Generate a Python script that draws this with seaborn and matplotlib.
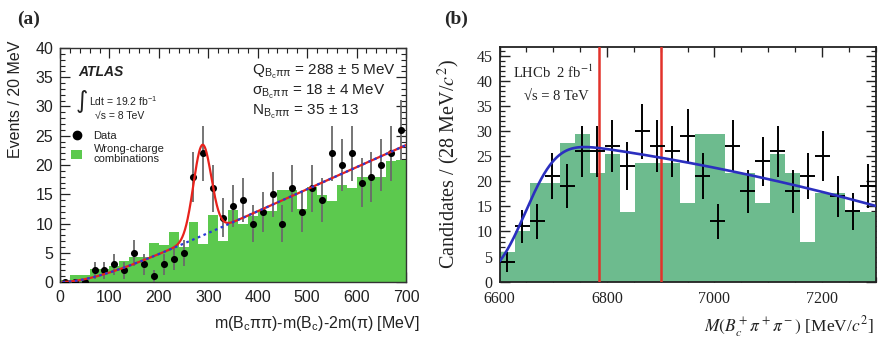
import math
import numpy as np
import pandas as pd
import seaborn as sns
import matplotlib
matplotlib.use("Agg")
import matplotlib.pyplot as plt
from matplotlib.lines import Line2D
from matplotlib.patches import Patch
from matplotlib.ticker import MultipleLocator

# ---------------- data: panel (a) ATLAS ----------------
atlas_edges = list(range(0, 720, 20))
atlas_wrong_charge = [0.3, 1.2, 1.2, 2.2, 2.2, 2.8, 3.6, 4.3, 4.3, 6.6,
                      6.3, 8.6, 6.0, 10.2, 6.5, 11.4, 7.0, 12.3, 10.0, 11.2,
                      12.2, 12.2, 15.7, 15.8, 12.4, 16.2, 14.8, 13.8, 16.5, 16.1,
                      17.9, 17.9, 18.0, 20.6, 20.9]
atlas_data = [0, 0, 0, 2, 2, 3, 2, 5, 3, 1,
              3, 4, 5, 18, 22, 16, 11, 13, 14, 10,
              12, 15, 10, 16, 12, 16, 14, 22, 20, 22,
              17, 18, 20, 22, 26]
# fit: signal Gaussian (from the chart text) + smooth background
atlas_Q, atlas_sigma, atlas_N = 288.0, 18.0, 35.0
atlas_bg_slope, atlas_bg_scale = 0.03774, 80.0

# ---------------- data: panel (b) LHCb ----------------
lhcb_edges = list(range(6600, 7301, 28))
lhcb_wrong_charge = [6.0, 10.0, 19.6, 19.6, 27.6, 29.5, 21.7, 25.4, 13.8, 23.6,
                     23.6, 23.6, 15.7, 29.5, 29.5, 21.7, 21.7, 15.7, 25.5, 21.7,
                     8.0, 17.7, 17.7, 13.9, 13.9]
lhcb_data = [4, 11, 12, 21, 19, 26, 26, 27, 23, 30,
             27, 26, 29, 21, 12, 27, 18, 24, 26, 18,
             21, 25, 17, 14, 19]
lhcb_window = [6785, 6900]
# background fit: quadratic times error-function turn-on
lhcb_c0, lhcb_c1, lhcb_c2, lhcb_ref = 24.7, -0.01863, -1.343e-5, 6900.0
lhcb_mu, lhcb_s = 6650.0, 65.0

# ---------------- style ----------------
sns.set_theme(style="ticks")
plt.rcParams["font.family"] = ["Liberation Sans", "DejaVu Sans"]
plt.rcParams["mathtext.fontset"] = "custom"
plt.rcParams["mathtext.rm"] = "Liberation Sans"
plt.rcParams["mathtext.it"] = "Liberation Sans:italic"
plt.rcParams["mathtext.bf"] = "Liberation Sans:bold"

SANS = ["Liberation Sans", "DejaVu Sans"]
SERIF = ["Liberation Serif", "DejaVu Serif"]

fig = plt.figure(figsize=(8.82, 3.40), dpi=100)
axL = fig.add_axes([60 / 882, 58 / 340, 346 / 882, 234 / 340])
axR = fig.add_axes([499.5 / 882, 58.3 / 340, 376 / 882, 235 / 340])

# ================= panel (a) =================
a_cent = [0.5 * (lo + hi) for lo, hi in zip(atlas_edges[:-1], atlas_edges[1:])]
a_w = atlas_edges[1] - atlas_edges[0]
dfa = pd.DataFrame({"x": a_cent, "wc": atlas_wrong_charge, "n": atlas_data})

sns.histplot(data=dfa, x="x", weights="wc", bins=list(atlas_edges), element="step",
             fill=True, color="#5cc94e", alpha=1, linewidth=0, ax=axL, zorder=1)

a_err = np.sqrt(dfa["n"].to_numpy(dtype=float))
axL.errorbar(dfa["x"], dfa["n"], yerr=a_err, fmt="none", ecolor="#6a6a6a",
             elinewidth=1.3, capsize=0, zorder=3)
sns.scatterplot(data=dfa, x="x", y="n", color="black", s=26, edgecolor="black",
                linewidth=0, ax=axL, zorder=5, legend=False)

xa = np.linspace(5, 700, 800)
bg_a = atlas_bg_slope * (xa - atlas_bg_scale + atlas_bg_scale * np.exp(-xa / atlas_bg_scale))
sig_a = atlas_N * a_w / (atlas_sigma * np.sqrt(2 * np.pi)) * np.exp(-0.5 * ((xa - atlas_Q) / atlas_sigma) ** 2)
sns.lineplot(x=xa, y=bg_a + sig_a, color="#e8221c", linewidth=1.6, ax=axL, zorder=6)
sns.lineplot(x=xa, y=bg_a, color="#2a3ad6", linewidth=1.6, linestyle=(0, (1.2, 1.6)),
             ax=axL, zorder=7)

axL.set_xlim(0, 700)
axL.set_ylim(0, 40)
axL.xaxis.set_major_locator(MultipleLocator(100))
axL.xaxis.set_minor_locator(MultipleLocator(20))
axL.yaxis.set_major_locator(MultipleLocator(5))
axL.yaxis.set_minor_locator(MultipleLocator(1))
axL.tick_params(which="both", direction="in", top=True, right=True, colors="#222222",
                labelsize=11.5, labelcolor="#222222")
axL.tick_params(which="major", length=7, width=0.9, pad=5)
axL.tick_params(which="minor", length=3.5, width=0.8)
axL.tick_params(axis="x", which="major", pad=6)
for sp in axL.spines.values():
    sp.set_linewidth(1.0)
    sp.set_color("#333333")
for lab in axL.get_xticklabels() + axL.get_yticklabels():
    lab.set_family(SANS)
axL.set_xlabel(r"m(B$_{\mathrm{c}}$ππ)-m(B$_{\mathrm{c}}$)-2m(π) [MeV]", fontsize=11.5,
               family=SANS, color="#222222", math_fontfamily="custom", loc="right")
axL.xaxis.set_label_coords(1.04, -0.135)
axL.set_ylabel("Events / 20 MeV", fontsize=11.5, family=SANS, color="#222222", loc="top")
axL.yaxis.set_label_coords(-0.108, 1.03)

tA = axL.transAxes
axL.text(0.052, 0.897, "ATLAS", transform=tA, fontsize=10, fontweight="bold",
         fontstyle="italic", family=SANS, va="center", color="#222222")
axL.text(0.044, 0.772, "∫", transform=tA, fontsize=17, family=["DejaVu Sans"],
         va="center", color="#222222")
axL.text(0.083, 0.772, r"Ldt = 19.2 fb$^{\mathrm{-1}}$", transform=tA, fontsize=7.5,
         family=SANS, va="center", math_fontfamily="custom", color="#222222")
axL.text(0.1, 0.71, "√s = 8 TeV", transform=tA, fontsize=7.5, family=SANS,
         va="center", color="#222222")
for y, txt in [(0.897, r"Q$_{\mathrm{B_c\pi\pi}}$ = 288 ± 5 MeV"),
               (0.812, r"σ$_{\mathrm{B_c\pi\pi}}$ = 18 ± 4 MeV"),
               (0.725, r"N$_{\mathrm{B_c\pi\pi}}$ = 35 ± 13")]:
    axL.text(0.555, y, txt, transform=tA, fontsize=11, family=SANS, va="center",
             math_fontfamily="custom", color="#222222")

handles = [Line2D([], [], marker="o", color="black", linestyle="none", markersize=6),
           Patch(facecolor="#5cc94e", edgecolor="none")]
leg = axL.legend(handles, ["Data", "Wrong-charge\ncombinations"], loc="upper left",
                 bbox_to_anchor=(0.02, 0.665), frameon=False, fontsize=8,
                 handlelength=1.0, handleheight=0.9, handletextpad=1.0,
                 labelspacing=0.25, borderaxespad=0)
for t in leg.get_texts():
    t.set_family(SANS)
    t.set_linespacing(1.0)
    t.set_color("#222222")

# ================= panel (b) =================
b_cent = [0.5 * (lo + hi) for lo, hi in zip(lhcb_edges[:-1], lhcb_edges[1:])]
b_half = [0.5 * (hi - lo) for lo, hi in zip(lhcb_edges[:-1], lhcb_edges[1:])]
dfb = pd.DataFrame({"x": b_cent, "wc": lhcb_wrong_charge, "n": lhcb_data})

sns.histplot(data=dfb, x="x", weights="wc", bins=list(lhcb_edges), element="step",
             fill=True, color="#6dbb8e", alpha=1, linewidth=0, ax=axR, zorder=1)
for xv in lhcb_window:
    axR.axvline(xv, color="#e2322b", linewidth=1.8, zorder=3)
b_err = np.sqrt(dfb["n"].to_numpy(dtype=float))
axR.errorbar(dfb["x"], dfb["n"], xerr=b_half, yerr=b_err, fmt="none", ecolor="black",
             elinewidth=1.4, capsize=0, zorder=5)

xb = np.linspace(6600, 7300, 800)
erf = np.vectorize(math.erf)
d = xb - lhcb_ref
fit_b = (lhcb_c0 + lhcb_c1 * d + lhcb_c2 * d ** 2) * 0.5 * (1 + erf((xb - lhcb_mu) / lhcb_s))
sns.lineplot(x=xb, y=fit_b, color="#2b2fbf", linewidth=1.9, ax=axR, zorder=6)

axR.set_xlim(6600, 7300)
axR.set_ylim(0, 46.8)
axR.xaxis.set_major_locator(MultipleLocator(200))
axR.xaxis.set_minor_locator(MultipleLocator(50))
axR.yaxis.set_major_locator(MultipleLocator(5))
axR.yaxis.set_minor_locator(MultipleLocator(1))
axR.tick_params(which="both", direction="in", top=True, right=True, colors="#222222",
                labelsize=11.5, labelcolor="#222222")
axR.tick_params(which="major", length=7, width=1.0, pad=5)
axR.tick_params(which="minor", length=3.5, width=0.9)
axR.tick_params(axis="x", which="major", pad=7)
for sp in axR.spines.values():
    sp.set_linewidth(1.3)
    sp.set_color("#222222")
for lab in axR.get_xticklabels() + axR.get_yticklabels():
    lab.set_family(SERIF)
axR.set_xlabel(r"$M(B_c^+\pi^+\pi^-)$ [MeV/$c^2$]", fontsize=12.5, family=SERIF,
               math_fontfamily="stix", color="#222222", loc="right")
axR.xaxis.set_label_coords(0.995, -0.14)
axR.set_ylabel(r"Candidates / (28 MeV/$c^2$)", fontsize=14.5, family=SERIF,
               math_fontfamily="stix", color="#222222", loc="center")
axR.yaxis.set_label_coords(-0.1, 0.5)

tB = axR.transAxes
axR.text(0.036, 0.892, r"LHCb  2 fb$^{-1}$", transform=tB, fontsize=10.5, family=SERIF,
         math_fontfamily="stix", va="center", color="#222222")
axR.text(0.064, 0.79, "√s = 8 TeV", transform=tB, fontsize=10.5, family=SERIF,
         va="center", color="#222222")

# panel labels
fig.text(17 / 882, 1 - 19 / 340, "(a)", fontsize=14, fontweight="bold", family=SERIF,
         va="center", ha="left")
fig.text(444 / 882, 1 - 19 / 340, "(b)", fontsize=14, fontweight="bold", family=SERIF,
         va="center", ha="left")

fig.savefig("out.png", dpi=100)
